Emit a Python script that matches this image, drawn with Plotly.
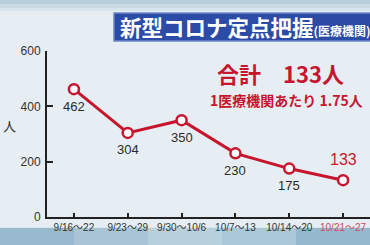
import plotly.graph_objects as go

categories = ["9/16~22", "9/23~29", "9/30~10/6", "10/7~13", "10/14~20", "10/21~27"]
values = [462, 304, 350, 230, 175, 133]
y_ticks = [0, 200, 400, 600]

RED = "#c8152e"
FONT = "Liberation Sans, Noto Sans CJK JP, sans-serif"
JP = "Noto Sans CJK JP, sans-serif"

W, H = 370, 245
L, R, T, B = 47, 0, 51, 28
PW, PH = W - L - R, H - T - B


def px(x):
    return (x - L) / PW


def py(y):
    return (H - B - y) / PH


x_idx = list(range(len(categories)))
ticktext = [c.replace("~", "～") for c in categories]
ticktext[-1] = f"<span style='color:#d0485e'>{ticktext[-1]}</span>"

fig = go.Figure()
fig.add_trace(go.Scatter(
    x=x_idx, y=values, mode="lines+markers",
    line=dict(color=RED, width=3),
    marker=dict(symbol="circle", size=10, color="white", line=dict(color=RED, width=2.5)),
    cliponaxis=False, showlegend=False, hoverinfo="skip"))

for i, v in enumerate(values[:-1]):
    fig.add_annotation(x=i, y=v, text=str(v), showarrow=False, xref="x", yref="y",
                       yshift=-17, font=dict(family=FONT, size=13, color="#2b2b2b"))
fig.add_annotation(x=x_idx[-1], y=values[-1], text=str(values[-1]), showarrow=False,
                   xref="x", yref="y", yshift=21,
                   font=dict(family=FONT, size=16, color=RED))

shapes = []
bands = [(0, 4, "#b9cfdc"), (4, 8, "#c9dae4"), (8, 11, "#d9e5ec")]
for y0, y1, c in bands:
    shapes.append(dict(type="rect", xref="paper", yref="paper", x0=px(0), x1=px(W),
                       y0=py(y1), y1=py(y0), fillcolor=c, line_width=0, layer="below"))
bottom = [(0, 74, "#98b9cd"), (74, 148, "#a8c4d5"), (148, 222, "#b7d0de"),
          (222, 296, "#aac7d8"), (296, 370, "#96b8cc")]
for x0, x1, c in bottom:
    shapes.append(dict(type="rect", xref="paper", yref="paper", x0=px(x0), x1=px(x1),
                       y0=py(H), y1=py(228), fillcolor=c, line_width=0, layer="below"))
shapes.append(dict(type="rect", xref="paper", yref="paper", x0=px(0), x1=px(W),
                   y0=py(228), y1=py(227), fillcolor="#d8e6ee", line_width=0, layer="below"))
shapes.append(dict(type="rect", xref="paper", yref="paper", x0=px(114), x1=px(W + 5),
                   y0=py(41), y1=py(13), fillcolor="#2b4ba6",
                   line=dict(color="#6f86c6", width=1.5), layer="above"))
fig.update_layout(shapes=shapes)

fig.add_annotation(xref="paper", yref="paper", x=px(118), y=py(27), xanchor="left",
                   yanchor="middle", showarrow=False,
                   text="<b>新型コロナ定点把握</b><b><span style='font-size:12px'>(医療機関)</span></b>",
                   font=dict(family=JP, size=21.5, color="white"))
fig.add_annotation(xref="paper", yref="paper", x=px(280), y=py(73), xanchor="center",
                   yanchor="middle", showarrow=False,
                   text="<b>合計　133人</b>", font=dict(family=JP, size=22, color=RED))
fig.add_annotation(xref="paper", yref="paper", x=px(286), y=py(100), xanchor="center",
                   yanchor="middle", showarrow=False,
                   text="<b>1医療機関あたり 1.75人</b>", font=dict(family=JP, size=14, color=RED))
fig.add_annotation(xref="paper", yref="paper", x=px(1), y=py(125), xanchor="left",
                   yanchor="middle", showarrow=False,
                   text="人", font=dict(family=JP, size=13, color="#333"))

fig.update_xaxes(range=[-0.5, 5.5], tickvals=x_idx, ticktext=ticktext, tickson="boundaries",
                 ticks="inside", ticklen=4, tickcolor="#222", tickwidth=1.5,
                 showline=True, linecolor="#222", linewidth=2, showgrid=False, zeroline=False,
                 tickfont=dict(family=FONT, size=10, color="#333"), fixedrange=True)
fig.update_yaxes(range=[0, 600], tickvals=y_ticks, ticks="inside", ticklen=6, tickcolor="#222",
                 tickwidth=1.5, showline=True, linecolor="#222", linewidth=2, showgrid=False,
                 zeroline=False, tickfont=dict(family=FONT, size=12, color="#333"),
                 ticklabelstandoff=2, fixedrange=True)

fig.update_layout(width=W, height=H, margin=dict(l=L, r=R, t=T, b=B),
                  paper_bgcolor="#e6eef4", plot_bgcolor="rgba(0,0,0,0)")

fig.write_html("out.html")
